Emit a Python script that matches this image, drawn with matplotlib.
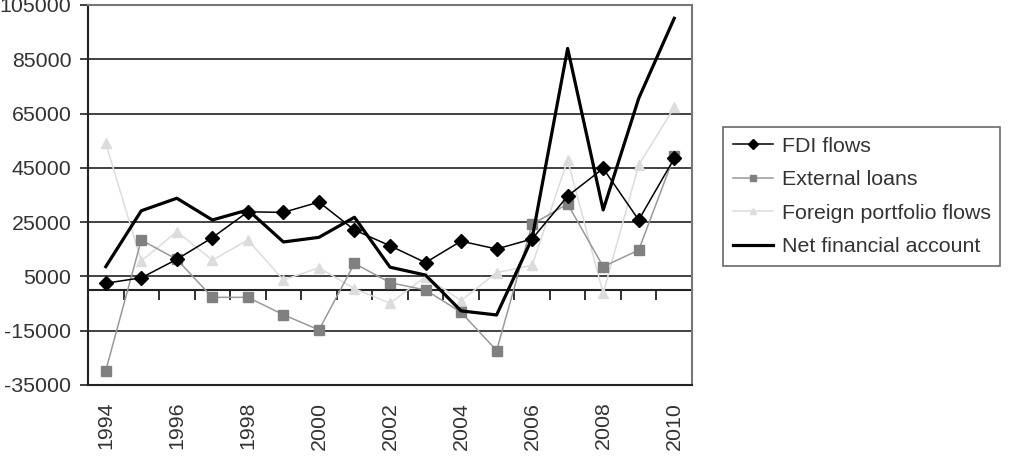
import numpy as np
import matplotlib
matplotlib.use("Agg")
import matplotlib.pyplot as plt

years = list(range(1994, 2011))
fdi_flows = [2500, 4500, 11300, 19300, 28800, 28600, 32400, 22100, 16300, 10100,
             18000, 15100, 18800, 34600, 44800, 25800, 48500]
external_loans = [-29700, 18400, 11300, -2700, -2700, -9100, -14700, 9800, 2700, 0,
                  -8200, -22300, 24200, 31700, 8600, 14700, 49400]
portfolio_flows = [54000, 10700, 21500, 11000, 18400, 3700, 8200, 500, -4900, 4900,
                   -3900, 6400, 9100, 47900, -1200, 46000, 67300]
net_financial = [8600, 29200, 33800, 25800, 29500, 17700, 19400, 26800, 8400, 5500,
                 -7700, -9200, 19000, 89000, 29500, 70600, 100100]
yticks = list(range(-35000, 105001, 20000))
labels = ["FDI flows", "External loans", "Foreign portfolio flows", "Net financial account"]

plt.rcParams['font.family'] = ['Liberation Sans', 'DejaVu Sans']
fs = 15.4
txtc = '#333333'

fig = plt.figure(figsize=(10.15, 4.71), dpi=100)
ax = fig.add_axes([88/1015, 1-385/471, (692-88)/1015, 380/471])

x = np.arange(len(years))
l1, = ax.plot(x, fdi_flows, color='black', lw=1.1, marker='D', ms=7.5, mfc='black', mec='black', zorder=5)
l2, = ax.plot(x, external_loans, color='#999999', lw=1.1, marker='s', ms=6.5, mfc='#808080', mec='#808080', zorder=4)
l3, = ax.plot(x, portfolio_flows, color='#dcdcdc', lw=1.1, marker='^', ms=7.5, mfc='#dcdcdc', mec='#dcdcdc', zorder=3)
l4, = ax.plot(x, net_financial, color='black', lw=2.3, zorder=6)

ax.set_xlim(-0.5, len(years) - 0.5)
ax.set_ylim(-35000, 105000)
ax.set_yticks(yticks)
ax.set_yticklabels([str(v) for v in yticks], fontsize=fs, color=txtc)
ax.yaxis.grid(True, color='#333333', lw=1.3)
ax.set_axisbelow(True)
ax.tick_params(axis='y', direction='out', length=6, width=1.3, color='#333333', pad=6)

ax.set_xticks(x[::2])
ax.set_xticklabels([str(y) for y in years[::2]], rotation=90, fontsize=fs, color=txtc)
ax.tick_params(axis='x', length=0, pad=12)

for s in ['left', 'bottom']:
    ax.spines[s].set_color('#222222')
    ax.spines[s].set_linewidth(1.5)
for s in ['top', 'right']:
    ax.spines[s].set_color('#777777')
    ax.spines[s].set_linewidth(1.5)

# category axis crossing at zero
zero_frac = (0 - (-35000)) / (105000 - (-35000))
sec = ax.secondary_xaxis(zero_frac)
sec.set_xticks(np.arange(-0.5, len(years), 1))
sec.set_xticklabels([])
sec.tick_params(direction='out', length=7, width=1.3, color='#222222')
sec.spines['bottom'].set_color('#222222')
sec.spines['bottom'].set_linewidth(1.5)

leg = fig.legend([l1, l2, l3, l4], labels, loc='upper left',
                 bbox_to_anchor=(723/1015, 1-127/471), fontsize=fs,
                 frameon=True, fancybox=False, handlelength=1.9,
                 handletextpad=0.4, labelspacing=0.68, borderpad=0.45,
                 borderaxespad=0)
leg.get_frame().set_edgecolor('#444444')
leg.get_frame().set_linewidth(1.2)
for t in leg.get_texts():
    t.set_color(txtc)
for h in leg.legend_handles:
    h.set_markersize(5)

fig.savefig('out.png', dpi=100)
